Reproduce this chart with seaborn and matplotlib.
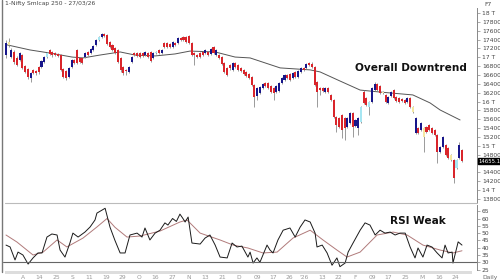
import matplotlib
matplotlib.use("Agg")
import matplotlib.pyplot as plt
from matplotlib.lines import Line2D
from matplotlib.patches import Rectangle
import numpy as np
import pandas as pd
import seaborn as sns

# ---------------- data ----------------
opens = [
17050,17345,17010,17120,16985,16940,17050,16805,16735,16535,
16715,16690,16780,16780,16895,17005,17165,17120,17095,17075,
17050,16735,16690,16555,16780,16940,17165,16985,16985,17005,
17120,17095,17165,17280,17390,17460,17525,17505,17345,17280,
17210,17165,16985,16780,16715,16670,16895,17095,17095,17095,
17095,17050,17095,17120,16985,17095,17165,17095,17325,17325,
17300,17235,17325,17325,17435,17460,17460,17480,17325,17095,
17050,17095,17120,17095,17120,17075,17235,17050,17050,17005,
16870,16760,16825,16715,16870,16825,16760,16715,16670,16625,
16555,16375,16125,16195,16305,16420,16420,16350,16305,16215,
16240,16420,16490,16600,16625,16535,16670,16555,16670,16760,
16760,16870,16850,16780,16440,16305,16305,16215,16305,16150,
16035,15650,15630,15700,15630,15425,15520,15745,15450,15405,
15540,16215,16080,15880,15990,16260,16400,16350,16215,16150,
15970,16125,16260,16105,16080,16060,16035,15990,16080,15880,
15290,15405,15360,15405,15425,15470,15405,15360,15245,14860,
14975,15020,14950,14795,14680,14500,14725,14905]

closes = [
17320,17280,17165,16895,16825,17095,16760,16670,16555,16645,
16645,16645,16670,16915,17005,17095,17075,17050,17050,17030,
16715,16555,16535,16760,16940,16870,16870,16895,16870,17095,
17050,17185,17255,17390,17460,17525,17480,17300,17235,17165,
17095,16895,16715,16645,16690,16780,17005,17050,17030,17005,
17030,17120,17005,16915,17095,17120,17095,17165,17235,17235,
17235,17345,17280,17435,17390,17390,17345,17325,17050,17050,
17005,17005,17050,17165,17050,17185,17095,17165,16985,16850,
16670,16600,16760,16870,16780,16715,16690,16625,16580,16535,
16375,16105,16305,16330,16400,16350,16305,16215,16195,16350,
16420,16535,16600,16535,16490,16645,16555,16690,16760,16715,
16850,16825,16780,16375,16215,16260,16240,16305,16215,16035,
15650,15470,15425,15360,15405,15630,15745,15425,15585,15630,
15880,15970,15925,15990,16305,16400,16260,16195,16195,15990,
16105,16215,16080,16015,15990,16015,15970,16080,15880,15765,
15630,15290,15515,15200,15315,15360,15290,15245,14860,14975,
15200,14795,14725,14680,14280,14680,15020,14655]

highs = [
17390,17435,17210,17165,17030,17120,17075,16825,16760,16670,
16735,16715,16805,16940,17030,17120,17190,17140,17120,17095,
17075,16760,16715,16780,16960,16960,17190,17005,17005,17120,
17140,17210,17280,17415,17480,17550,17550,17525,17370,17300,
17235,17190,17005,16805,16735,16805,17030,17120,17120,17120,
17120,17140,17120,17140,17120,17140,17190,17190,17345,17345,
17325,17370,17345,17460,17460,17480,17480,17505,17345,17120,
17075,17120,17140,17190,17140,17210,17255,17190,17075,17030,
16895,16780,16850,16895,16895,16850,16780,16735,16690,16645,
16580,16400,16330,16350,16420,16445,16445,16375,16330,16375,
16445,16555,16625,16625,16645,16670,16690,16715,16780,16780,
16870,16895,16895,16805,16465,16330,16330,16330,16330,16170,
16060,15675,15650,15720,15650,15650,15765,15765,15610,15650,
15900,16260,16105,16015,16330,16440,16420,16375,16240,16170,
16125,16240,16285,16125,16105,16080,16060,16105,16105,15900,
15650,15425,15540,15425,15450,15495,15425,15380,15270,14995,
15225,15040,14975,14815,14700,14700,15090,14930]

lows = [
16980,17235,16985,16850,16805,16915,16735,16645,16510,16445,
16625,16600,16625,16760,16870,16985,17050,17005,17030,17005,
16690,16535,16490,16535,16760,16850,16850,16870,16850,16985,
17030,17075,17140,17255,17370,17435,17460,17280,17210,17140,
17075,16870,16670,16600,16600,16645,16870,17030,17005,16985,
17005,17030,16985,16895,16960,17075,17075,17075,17210,17210,
17210,17210,17255,17300,17370,17370,17325,17300,17030,16825,
16985,16985,17030,17075,17030,17050,17075,17030,16960,16825,
16645,16580,16715,16690,16760,16690,16670,16600,16555,16510,
16350,15880,16035,16170,16285,16330,16285,16195,16035,16195,
16215,16400,16465,16510,16465,16510,16535,16535,16645,16690,
16735,16805,16760,16350,15880,16150,16215,16195,16195,16015,
15630,15315,15405,15180,15135,15405,15495,15200,15425,15245,
15515,15945,15900,15700,15970,16240,16240,16170,16170,15970,
15945,16105,16060,15990,15970,15990,15945,15970,15855,15745,
15270,15270,15335,14860,15290,15335,15270,15225,14615,14840,
14950,14775,14705,14660,14165,14475,14705,14635]

highlighted = [1, 15, 34, 55, 130, 133, 138, 149, 153, 163, 165]

ma_idx = [0.4, 8.8, 16.1, 24.2, 28.2, 34.4, 41.8, 47.3, 54.6, 61.9, 67.4, 76.6,
          83.9, 89.4, 100.4, 111.4, 115, 122.3, 129.7, 137, 149, 155.3, 159, 166.3]
ma_val = [17280, 17165, 17095, 17005, 16985, 17050, 17120, 17050, 17030, 17075, 17140, 17120,
          17005, 16985, 16760, 16715, 16670, 16465, 16260, 16215, 16150, 15970, 15810, 15585]

rsi_idx = [0, 1.5, 3.3, 4.4, 6.2, 8.1, 9.9, 11.7, 13.2, 15, 16.8, 18.7, 19.8, 21.6, 23.4,
           24.5, 26.4, 28.9, 30.8, 32.6, 33.3, 36.3, 38.1, 39.9, 41.8, 43.6, 45.4, 48, 49.8,
           50.9, 52.7, 54.6, 56.4, 58.2, 59.3, 61, 62.4, 63.7, 64.8, 65.6, 66.7, 68.1, 71.1,
           72.9, 74.7, 76.6, 78.4, 81, 82.8, 84.6, 86.4, 88.6, 89.4, 90.5, 91.9, 93, 95.6,
           96.7, 97.8, 99.6, 101.5, 104, 105.9, 107.7, 109.5, 111.4, 113.2, 113.9, 115.8,
           117.6, 119.4, 121.2, 122.3, 124.2, 125.3, 127.1, 129.7, 131.5, 133.3, 135.2,
           137, 138.8, 140.7, 142.5, 144.3, 146.2, 148, 149.8, 150.9, 152.7, 154.2, 156,
           157.9, 159.7, 160.8, 161.9, 163.4, 163.7, 165.6, 167]
rsi_val = [41.8, 40.5, 31.6, 37, 35, 28.8, 33, 36.4, 36.4, 47.3, 49.4, 48.7, 38.4, 33.6, 43.2,
           50, 47.3, 50.7, 54.2, 59, 63.7, 67, 54, 45, 36.4, 36.4, 48.7, 50, 47.3,
           53.5, 45.3, 50, 52, 57, 55.5, 60, 58, 63, 60, 57.6, 61, 43.2, 42.5,
           46.6, 48.7, 41.8, 33.6, 33, 43.2, 40.5, 41.1, 33.6, 37, 29.5, 33, 30, 41.8,
           38.4, 36.4, 45.3, 52, 53.5, 47.3, 54, 59, 57.6, 50, 40.5, 41.8,
           36.4, 28, 33, 27, 29.5, 37, 43.2, 52, 57, 55.5, 48.7,
           52, 50, 50.7, 48.7, 50, 50, 40.5, 33, 39.8, 33.6, 41.8, 40.5,
           36.4, 33, 41.8, 36.4, 37, 29.5, 44, 41.8]

sig_idx = [0, 4, 9.9, 13.6, 18.7, 22.3, 28.2, 33.3, 37, 39.9, 44.3, 49.1, 56.4, 63.7, 66.3,
           71.1, 78.4, 83.2, 88.6, 94.1, 99.3, 105.1, 111.4, 116.1, 121.2, 124.9, 129.7,
           135.9, 141.8, 146.9, 152.7, 159, 163.7, 167]
sig_val = [48.7, 43.9, 35, 37, 45.3, 40.5, 46.6, 54.2, 60, 54, 47.3, 48, 51.4, 57.6, 59,
           50, 45.3, 41.8, 39.8, 36.4, 37, 46.6, 52, 45.3, 38.4, 33.6, 37,
           48.7, 50.7, 48.7, 41.8, 38.4, 36.4, 37.9]

date_pos = [6.2, 12.1, 18.3, 24.2, 30.4, 36.6, 42.5, 48.7, 54.6, 60.8, 67, 72.9, 79.1, 85.3,
            91.9, 97.8, 103.7, 109.1, 115.7, 121.6, 127.8, 134.1, 139.9, 146.2, 152.4, 158.6, 164.5]
date_labels = ["A", "14", "25", "S", "11", "19", "29", "O", "16", "27", "N", "13", "21", "D",
               "09", "17", "26", "'26", "13", "22", "F", "09", "17", "25", "M", "16", "24"]

price_ticks = list(range(13800, 18001, 200))
price_tick_labels = [f"{v // 1000} T" if v % 1000 == 0 else str(v) for v in price_ticks]
hidden_price_tick = 14600  # covered by the last-price box in the reference
rsi_ticks = [25, 30, 35, 40, 45, 50, 55, 60, 65]
last_price_label = "14655.1"

# ---------------- style ----------------
sns.set_theme(style="white")
plt.rcParams['font.family'] = ['DejaVu Sans']

W, H = 500, 280
fig = plt.figure(figsize=(5, 2.8), dpi=100)
fig.patch.set_facecolor("white")

def rect(x0, y0, x1, y1):
    return [x0 / W, 1 - y1 / H, (x1 - x0) / W, (y1 - y0) / H]

ax = fig.add_axes(rect(3, 8, 477, 203))
ax2 = fig.add_axes(rect(3, 205, 477, 270))

n = len(closes)
assert len(opens) == n and len(highs) == n and len(lows) == n

df = pd.DataFrame({"i": np.arange(n), "o": opens, "h": highs, "l": lows, "c": closes})
RED, BLUE, CYAN, YEL = "#d9252b", "#17168a", "#a6e6f2", "#f3e7a2"
cols = []
for i, r in df.iterrows():
    up = r.c >= r.o
    if i in highlighted:
        cols.append(CYAN if up else YEL)
    else:
        cols.append(BLUE if up else RED)

ax.vlines(df.i, df.l, df.h, color="#8a8a8a", lw=0.6, zorder=2)
body_lo = np.minimum(df.o, df.c)
body_h = np.maximum(np.abs(df.c - df.o), 12)
ax.bar(df.i, body_h, bottom=body_lo, width=0.75, color=cols, linewidth=0, zorder=3)

sns.lineplot(x=ma_idx, y=ma_val, ax=ax, color="#555555", lw=0.7, zorder=1)

ax.set_xlim(-1.1, 172.5)
ax.set_ylim(13711, 18112)
for s in ["top", "left", "bottom"]:
    ax.spines[s].set_visible(False)
ax.spines["right"].set_color("#888888")
ax.spines["right"].set_linewidth(0.7)
ax.yaxis.tick_right()
ax.set_yticks(price_ticks)
ax.set_yticklabels(["" if v == hidden_price_tick else lab
                    for v, lab in zip(price_ticks, price_tick_labels)])
ax.tick_params(axis="y", direction="out", length=2.5, width=0.5, colors="#888888",
               labelsize=4.3, labelcolor="#444444", pad=1)
ax.set_xticks([])
ax.set_xlabel("")
ax.set_ylabel("")

ax.annotate(last_price_label, xy=(1.0, closes[-1]), xycoords=("axes fraction", "data"),
            xytext=(1.2, 0), textcoords="offset points", fontsize=3.9, color="white",
            va="center", ha="left",
            bbox=dict(boxstyle="square,pad=0.12", fc="black", ec="black"), zorder=5,
            annotation_clip=False)

fig.text(411 / W, 1 - 68 / H, "Overall Downtrend", fontsize=7.6, fontweight="bold",
         color="#111111", ha="center", va="center")

# RSI panel
sns.lineplot(x=sig_idx, y=sig_val, ax=ax2, color="#b07a7a", lw=0.7)
sns.lineplot(x=rsi_idx, y=rsi_val, ax=ax2, color="#1a1a1a", lw=0.7)
ax2.axhline(30, color="#666666", lw=0.8)
ax2.set_xlim(-1.1, 172.5)
ax2.set_ylim(24.73, 69.25)
for s in ["top", "left", "bottom"]:
    ax2.spines[s].set_visible(False)
ax2.spines["right"].set_color("#888888")
ax2.spines["right"].set_linewidth(0.7)
ax2.yaxis.tick_right()
ax2.set_yticks(rsi_ticks)
ax2.set_yticklabels([str(v) for v in rsi_ticks])
ax2.tick_params(axis="y", direction="out", length=2.5, width=0.5, colors="#888888",
                labelsize=4.3, labelcolor="#444444", pad=1)
ax2.set_xticks(date_pos)
ax2.set_xticklabels(date_labels)
ax2.tick_params(axis="x", length=0, labelsize=4.3, labelcolor="#9a9a9a", pad=3.5)
ax2.set_xlabel("")
ax2.set_ylabel("")

fig.text(418 / W, 1 - 221 / H, "RSI Weak", fontsize=7.6, fontweight="bold",
         color="#111111", ha="center", va="center")

# frame decorations
fig.add_artist(Line2D([5 / W, 477 / W], [1 - 203 / H, 1 - 203 / H], color="#bbbbbb", lw=0.8))
fig.add_artist(Rectangle((5 / W, 1 - 274 / H), 467 / W, 3.5 / H, transform=fig.transFigure,
                         color="#dddddd", lw=0, zorder=0))
fig.add_artist(Line2D([1.5 / W, 1.5 / W], [1 - 272 / H, 1.0], color="#777777", lw=1.0))

fig.text(5 / W, 1 - 4 / H, "1-Nifty Smlcap 250 - 27/03/26", fontsize=4.3, color="#444444",
         ha="left", va="center")
fig.text(488 / W, 1 - 4 / H, "F7", fontsize=4.3, color="#444444", ha="center", va="center")
fig.text(490 / W, 1 - 277 / H, "Daily", fontsize=4.3, color="#666666", ha="center", va="center")

fig.savefig("out.png", dpi=100, facecolor="white")
